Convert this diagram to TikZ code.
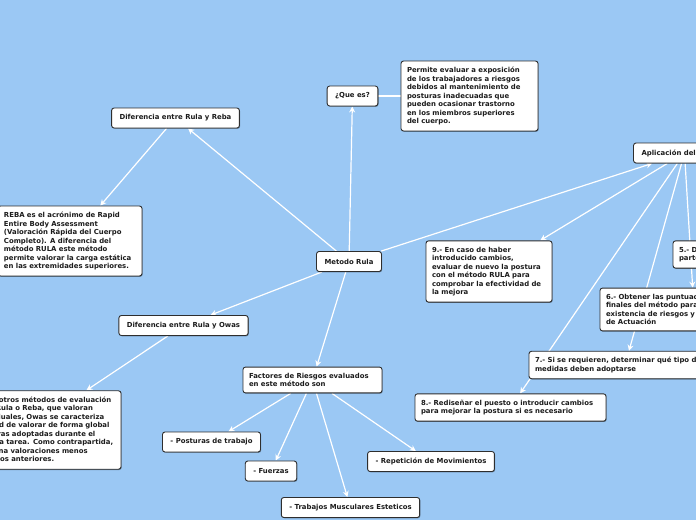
\documentclass[tikz,border=0pt]{standalone}
\usepackage{fontspec}
\setmainfont{DejaVu Sans}
\usetikzlibrary{arrows.meta,shadows,backgrounds}
\definecolor{MapSky}{HTML}{9BC8F4}
\definecolor{BoxInk}{HTML}{2E2E2E}
\definecolor{TextInk}{HTML}{1C1C1C}
\tikzset{
  topic/.style={draw=BoxInk, line width=0.9pt, fill=white, rounded corners=2.5pt, inner xsep=8pt, inner ysep=4pt, minimum height=20pt, font=\fontsize{6.9}{8.5}\selectfont\bfseries, text=TextInk, drop shadow={shadow xshift=0.7pt, shadow yshift=-0.8pt, opacity=0.35, fill=black}},
  notebox/.style={topic, align=left, text width=#1, inner xsep=6pt, inner ysep=6pt},
  maparrow/.style={-{Stealth[length=6pt, width=6pt]}, line width=1.2pt, draw=white},
  mapline/.style={line width=1.2pt, draw=white},
}

\begin{document}
\begin{tikzpicture}[x=1pt, y=-1pt]
  \useasboundingbox (0,0) rectangle (696,520);
  \clip (0,0) rectangle (696,520);
  % centre and main branches
  \node[topic] (rula) at (349,261.5) {Metodo Rula};
  \node[topic] (que) at (352.5,96) {¿Que es?};
  \node[notebox=125pt] (permite) at (469.5,96) {Permite evaluar a exposición\\de los trabajadores a riesgos\\debidos al mantenimiento de\\posturas inadecuadas que\\pueden ocasionar trastorno\\en los miembros superiores\\del cuerpo.};
  \node[topic] (reba) at (175.5,118) {Diferencia entre Rula y Reba};
  \node[notebox=132pt] (rebatext) at (70,241) {REBA es el acrónimo de Rapid\\Entire Body Assessment\\(Valoración Rápida del Cuerpo\\Completo). A diferencia del\\método RULA este método\\permite valorar la carga estática\\en las extremidades superiores.};
  \node[topic] (owas) at (183.5,325.5) {Diferencia entre Rula y Owas};
  \node[notebox=178pt, inner xsep=5pt] (owastext) at (27,430) {A diferencia de otros métodos de evaluación\\postural como Rula o Reba, que valoran\\posturas individuales, Owas se caracteriza\\por su capacidad de valorar de forma global\\todas las posturas adoptadas durante el\\desempeño de la tarea. Como contrapartida,\\Owas proporciona valoraciones menos\\detalladas que los anteriores.};
  % factores de riesgo
  \node[notebox=127pt] (factores) at (312.5,380) {Factores de Riesgos evaluados\\en este método son};
  \node[topic] (posturas) at (211.5,442) {- Posturas de trabajo};
  \node[topic] (fuerzas) at (271,471) {- Fuerzas};
  \node[topic] (trabajos) at (350.5,507.5) {- Trabajos Musculares Esteticos};
  \node[topic] (repeticion) at (431,461.5) {- Repetición de Movimientos};
  % aplicacion del metodo
  \node[topic] (aplicacion) at (684.5,153) {Aplicación del Método};
  \node[notebox=178pt] (paso5) at (768,254.5) {5.- Determinar las puntuaciones para cada\\parte del cuerpo};
  \node[notebox=176pt] (paso6) at (694,309.5) {6.- Obtener las puntuaciones\\finales del método para valorar la\\existencia de riesgos y el Nivel\\de Actuación};
  \node[notebox=180pt] (paso7) at (625,365) {7.- Si se requieren, determinar qué tipo de\\medidas deben adoptarse};
  \node[notebox=179pt] (paso8) at (510.5,407.5) {8.- Rediseñar el puesto o introducir cambios\\para mejorar la postura si es necesario};
  \node[notebox=114pt] (paso9) at (489,271.5) {9.- En caso de haber\\introducido cambios,\\evaluar de nuevo la postura\\con el método RULA para\\comprobar la efectividad de\\la mejora};

  \begin{scope}[on background layer]
    \clip (0,0) rectangle (696,520);
    \fill[MapSky] (0,0) rectangle (696,520);
    \draw[maparrow] (rula) -- (que);
    \draw[mapline] (que) -- (permite);
    \draw[maparrow] (rula) -- (reba);
    \draw[maparrow] (reba) -- (rebatext);
    \draw[maparrow] (rula) -- (owas);
    \draw[maparrow] (owas) -- (owastext);
    \draw[maparrow] (rula) -- (factores);
    \draw[maparrow] (factores) -- (posturas);
    \draw[maparrow] (factores) -- (fuerzas);
    \draw[maparrow] (factores) -- (trabajos);
    \draw[maparrow] (factores) -- (repeticion);
    \draw[maparrow] (rula) -- (aplicacion);
    \draw[maparrow] (aplicacion) -- (paso9);
    \draw[maparrow] (aplicacion) -- (paso8);
    \draw[maparrow] (aplicacion) -- (paso7);
    \draw[maparrow] (aplicacion) -- (paso6);
  \end{scope}
\end{tikzpicture}
\end{document}
